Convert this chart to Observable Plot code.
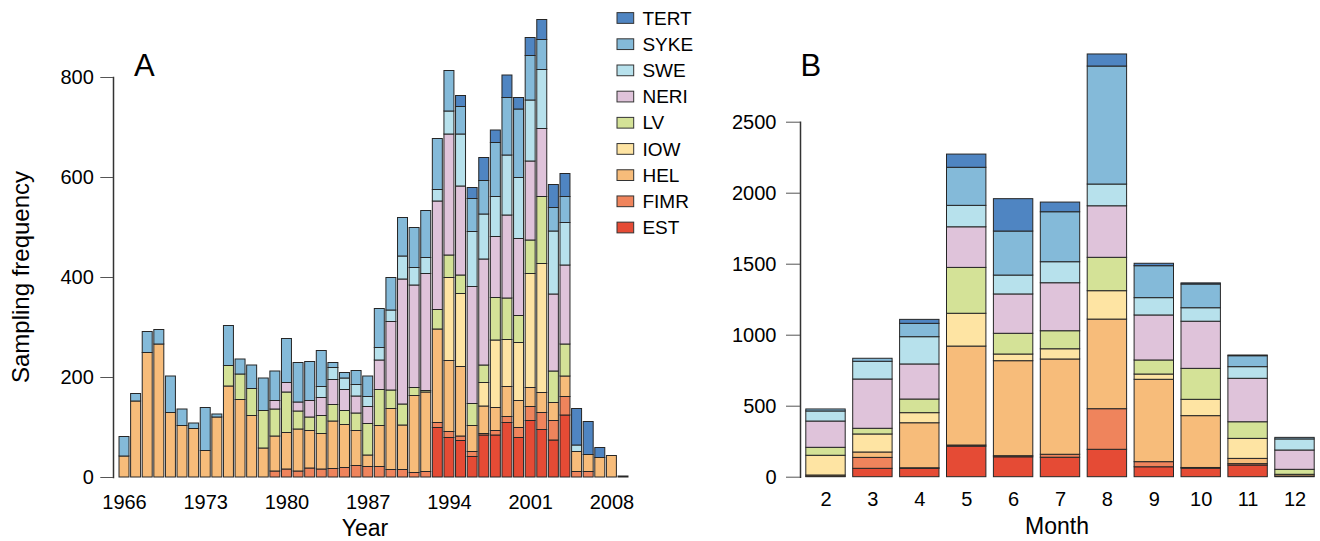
<!DOCTYPE html>
<html>
<head>
<meta charset="utf-8">
<script src="https://cdn.jsdelivr.net/npm/d3@7"></script>
<script src="https://cdn.jsdelivr.net/npm/@observablehq/plot@0.6"></script>
<style>
  body { margin: 0; background: #fff; }
  #chart { position: relative; width: 1320px; height: 541px; background: #fff;
           font-family: "Liberation Sans", Arial, Helvetica, sans-serif; color: #000; }
  #chart svg { position: absolute; left: 0; top: 0; }
  .lbl { position: absolute; white-space: nowrap; line-height: 1; }
</style>
</head>
<body>
<div id="chart"></div>
<script>
// Institutes, stacked bottom to top
const seriesNames = ["EST", "FIMR", "HEL", "IOW", "LV", "NERI", "SWE", "SYKE", "TERT"];
const seriesColors = ["#e54b35", "#ef845c", "#f7bc7a", "#fee4a3", "#d4e297", "#dfc3da", "#b7e1ec", "#84bad9", "#4f85c2"];

// Panel A: sampling frequency per year
const years = [1966, 1967, 1968, 1969, 1970, 1971, 1972, 1973, 1974, 1975,
               1976, 1977, 1978, 1979, 1980, 1981, 1982, 1983, 1984, 1985,
               1986, 1987, 1988, 1989, 1990, 1991, 1992, 1993, 1994, 1995,
               1996, 1997, 1998, 1999, 2000, 2001, 2002, 2003, 2004, 2005,
               2006, 2007, 2008, 2009];
const yearLabels = [1966, 1973, 1980, 1987, 1994, 2001, 2008];
const yearTicks = [0, 200, 400, 600, 800];

const yearEST  = [0,0,0,0,0,0,0,0,0,0, 0,0,0,0,0,0,0,0,0,0, 0,0,0,0,0,0,0,99,79,73, 41,84,84,109,79,113,95,74,124,0, 0,0,0,0];
const yearFIMR = [0,0,0,0,0,0,0,0,0,0, 0,0,0,12,16,12,18,16,17,19, 23,21,21,15,15,9,11,10,12,9, 10,3,9,12,20,28,34,39,37,11, 11,0,0,0];
const yearHEL  = [42,152,249,266,129,103,97,53,120,182, 155,123,58,70,73,84,75,71,95,86, 70,23,82,122,89,154,159,187,142,139, 52,55,46,60,54,38,40,36,41,40, 34,39,43,2];
const yearIOW  = [0,0,0,0,0,0,0,0,0,0, 0,0,0,0,0,0,0,0,0,0, 0,0,0,0,0,0,0,0,166,146, 0,47,135,94,116,228,258,0,0,0, 0,0,0,0];
const yearLV   = [0,0,0,0,0,0,0,0,0,41, 51,54,75,54,81,36,27,36,33,28, 35,63,72,37,42,16,3,39,45,37, 44,35,85,83,54,67,134,63,64,0, 0,0,0,0];
const yearNERI = [0,0,0,0,0,0,0,0,0,0, 0,0,0,17,19,18,33,36,50,42, 34,34,59,137,250,205,234,217,242,178, 234,212,122,166,154,158,136,154,158,0, 0,0,0,0];
const yearSWE  = [0,0,0,0,0,0,0,0,0,0, 0,0,0,0,0,0,0,22,24,23, 23,20,25,23,46,35,32,23,46,104, 110,90,80,120,122,122,118,126,85,13, 0,0,0,0];
const yearSYKE = [39,15,42,29,73,33,11,86,6,80, 30,47,65,59,88,79,78,72,10,11, 28,41,78,65,77,80,94,102,81,55, 66,67,108,115,137,89,60,47,52,0, 0,0,0,0];
const yearTERT = [0,0,0,0,0,0,0,0,0,0, 0,0,0,0,0,0,0,0,0,0, 0,0,0,0,0,0,0,0,0,22, 22,46,25,45,23,36,40,46,46,73, 66,20,0,0];

// Panel B: sampling frequency per month
const months = [2, 3, 4, 5, 6, 7, 8, 9, 10, 11, 12];
const monthTicks = [0, 500, 1000, 1500, 2000, 2500];

const monthEST  = [3, 59, 59, 215, 140, 137, 193, 70, 60, 82, 5];
const monthFIMR = [0, 77, 4, 8, 8, 21, 286, 36, 5, 10, 0];
const monthHEL  = [9, 38, 317, 697, 669, 671, 631, 580, 365, 37, 12];
const monthIOW  = [139, 127, 71, 231, 47, 72, 200, 37, 115, 141, 0];
const monthLV   = [56, 40, 96, 323, 146, 127, 235, 99, 218, 117, 35];
const monthNERI = [185, 347, 247, 286, 277, 338, 363, 317, 332, 306, 136];
const monthSWE  = [71, 125, 192, 151, 133, 148, 153, 122, 95, 82, 78];
const monthSYKE = [14, 21, 94, 268, 310, 352, 831, 225, 167, 77, 11];
const monthTERT = [0, 0, 28, 93, 228, 68, 85, 17, 8, 5, 0];

const yearTable = {EST: yearEST, FIMR: yearFIMR, HEL: yearHEL, IOW: yearIOW, LV: yearLV,
                   NERI: yearNERI, SWE: yearSWE, SYKE: yearSYKE, TERT: yearTERT};
const monthTable = {EST: monthEST, FIMR: monthFIMR, HEL: monthHEL, IOW: monthIOW, LV: monthLV,
                    NERI: monthNERI, SWE: monthSWE, SYKE: monthSYKE, TERT: monthTERT};

// long format rows, empty segments dropped
const tidy = (cats, table) => seriesNames.flatMap(s =>
  cats.map((c, i) => ({cat: c, series: s, value: table[s][i]}))).filter(d => d.value > 0);

const font = '"Liberation Sans", Arial, Helvetica, sans-serif';
const baseStyle = {background: "transparent", fontFamily: font, color: "#000", overflow: "visible"};
const colorScale = {domain: seriesNames, range: seriesColors};
const barStroke = "#262626";

const chart = document.getElementById("chart");

// Panel A
const plotA = Plot.plot({
  width: 1320, height: 541,
  marginLeft: 113, marginTop: 77, marginBottom: 64, marginRight: 0,
  style: baseStyle,
  x: {type: "band", domain: years, range: [118.2, 628.8], paddingInner: 0.14, paddingOuter: 0.07, round: false},
  y: {domain: [0, 800], range: [477, 77]},
  color: colorScale,
  marks: [
    Plot.barY(tidy(years, yearTable), {x: "cat", y: "value", fill: "series", order: seriesNames,
      stroke: barStroke, strokeWidth: 1}),
    Plot.frame({anchor: "left", stroke: "#333", strokeWidth: 1.5}),
    Plot.axisY({ticks: yearTicks, tickSize: 12.7, tickPadding: 7, tickFormat: d => String(d),
      fontSize: 20, label: null, stroke: "#555"}),
    Plot.axisX({ticks: yearLabels, tickSize: 0, tickPadding: 17, tickFormat: d => String(d),
      fontSize: 20, label: null})
  ]
});
chart.appendChild(plotA);

// Panel B
const plotB = Plot.plot({
  width: 1320, height: 541,
  marginLeft: 800, marginTop: 121.7, marginBottom: 64.3, marginRight: 0,
  style: baseStyle,
  x: {type: "band", domain: months, range: [802.05, 1317.95], paddingInner: 0.16, paddingOuter: 0.08, round: false},
  y: {domain: [0, 2500], range: [476.7, 121.7]},
  color: colorScale,
  marks: [
    Plot.barY(tidy(months, monthTable), {x: "cat", y: "value", fill: "series", order: seriesNames,
      stroke: barStroke, strokeWidth: 1}),
    Plot.frame({anchor: "left", stroke: "#333", strokeWidth: 1.5}),
    Plot.axisY({ticks: monthTicks, tickSize: 14, tickPadding: 10, tickFormat: d => String(d),
      fontSize: 20, label: null, stroke: "#555"}),
    Plot.axisX({tickSize: 0, tickPadding: 15, tickFormat: d => String(d), fontSize: 20, label: null})
  ]
});
chart.appendChild(plotB);

// Legend, top entry first
const legendOrder = seriesNames.slice().reverse();
const legend = Plot.plot({
  width: 1320, height: 541,
  margin: 0,
  style: baseStyle,
  x: {type: "band", domain: ["key"], range: [617, 633.7], padding: 0, round: false, axis: null},
  y: {type: "band", domain: legendOrder, range: [4.9, 240.6], paddingInner: 0.59, paddingOuter: 0.295, round: false, axis: null},
  color: colorScale,
  marks: [
    Plot.cell(legendOrder, {x: () => "key", y: d => d, fill: d => d, stroke: "#333", strokeWidth: 1}),
    Plot.text(legendOrder, {x: () => "key", y: d => d, text: d => d, textAnchor: "start",
      dx: 16.6, fontSize: 19, fill: "#000"})
  ]
});
chart.appendChild(legend);

// Panel letters and axis titles
function label(text, css) {
  const el = document.createElement("div");
  el.className = "lbl";
  el.textContent = text;
  Object.assign(el.style, css);
  chart.appendChild(el);
}
label("A", {left: "134px", top: "49.8px", fontSize: "31px"});
label("B", {left: "800.5px", top: "49.8px", fontSize: "31px"});
label("Year", {left: "365px", top: "516.5px", fontSize: "23px", transform: "translateX(-50%)"});
label("Month", {left: "1057px", top: "515px", fontSize: "23px", transform: "translateX(-50%)"});
label("Sampling frequency", {left: "21px", top: "277px", fontSize: "24px",
  transform: "translate(-50%, -50%) rotate(-90deg)"});
</script>
</body>
</html>
